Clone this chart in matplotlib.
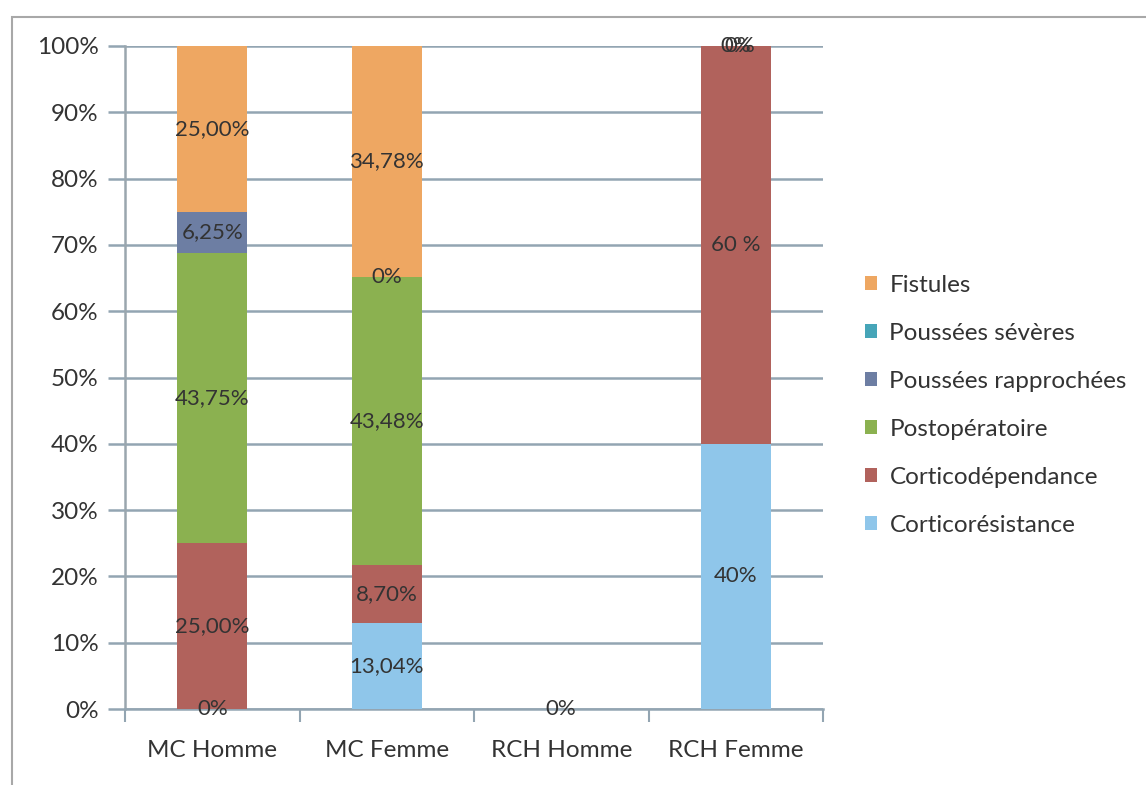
import numpy as np
import matplotlib.pyplot as plt
from matplotlib.patches import Rectangle

plt.rcParams['font.family'] = ['Lato', 'DejaVu Sans']

# Data (percent of each group)
groups = ['MC Homme', 'MC Femme', 'RCH Homme', 'RCH Femme']
series = ['Corticorésistance', 'Corticodépendance', 'Postopératoire',
          'Poussées rapprochées', 'Poussées sévères', 'Fistules']
cortico_resistance = [0, 13.04, 0, 40]
cortico_dependance = [25.00, 8.70, 0, 60]
postoperatoire = [43.75, 43.48, 0, 0]
poussees_rapprochees = [6.25, 0, 0, 0]
poussees_severes = [0, 0, 0, 0]
fistules = [25.00, 34.78, 0, 0]

# Data labels as printed on the chart (None = not shown)
labels_resistance = ['0%', '13,04%', '0%', '40%']
labels_dependance = ['25,00%', '8,70%', None, '60 %']
labels_postop = ['43,75%', '43,48%', None, None]
labels_rapprochees = ['6,25%', '0%', None, None]
labels_severes = [None, None, None, '0%']
labels_fistules = ['25,00%', '34,78%', None, '0%']

values = [cortico_resistance, cortico_dependance, postoperatoire,
          poussees_rapprochees, poussees_severes, fistules]
labels = [labels_resistance, labels_dependance, labels_postop,
          labels_rapprochees, labels_severes, labels_fistules]
colors = ['#8FC6EA', '#B1625C', '#8BB150', '#6D7EA3', '#46A5B8', '#EEA762']

text_col = '#333333'
grid_col = '#93A5B2'

fig = plt.figure(figsize=(11.46, 7.85), dpi=100)
fig.patches.append(Rectangle((12 / 1146, -0.05), 1.2, 1 - 17 / 785 + 0.05,
                             transform=fig.transFigure, fill=False,
                             edgecolor='#A8A8A8', linewidth=1.5))
ax = fig.add_axes([125 / 1146, 76 / 785, 698 / 1146, 663 / 785])

x = np.arange(len(groups))
bottom = np.zeros(len(groups))
bars = []
for vals, labs, col, name in zip(values, labels, colors, series):
    vals = np.array(vals, dtype=float)
    b = ax.bar(x, vals, 0.4, bottom=bottom, color=col, label=name, zorder=3)
    bars.append(b)
    for i, lab in enumerate(labs):
        if lab is None:
            continue
        # the two stacked 0% labels on top of RCH Femme sit almost on each other
        dx = 0.025 if (name == 'Fistules' and i == 3) else 0
        ax.text(x[i] + dx, bottom[i] + vals[i] / 2, lab, ha='center', va='center',
                fontsize=16, color=text_col, zorder=5)
    bottom += vals

ax.set_xlim(-0.5, 3.5)
ax.set_ylim(0, 100)
ax.set_yticks(np.arange(0, 101, 10))
ax.set_yticklabels([f'{v}%' for v in range(0, 101, 10)])
ax.set_xticks(x)
ax.set_xticklabels(groups)
ax.set_xticks(np.arange(-0.5, 3.6, 1), minor=True)
ax.tick_params(axis='x', which='major', length=0, pad=22, labelsize=17.5, labelcolor=text_col)
ax.tick_params(axis='x', which='minor', length=9, width=1.5, color=grid_col, direction='out')
ax.tick_params(axis='y', length=12, width=1.8, color=grid_col, pad=7,
               labelsize=17.5, labelcolor=text_col)
ax.yaxis.grid(True, color=grid_col, linewidth=1.8, zorder=0)
for s in ['top', 'right']:
    ax.spines[s].set_visible(False)
ax.spines['left'].set_color('#9AA6AE')
ax.spines['left'].set_linewidth(1.8)
ax.spines['bottom'].set_color(grid_col)
ax.spines['bottom'].set_linewidth(1.8)

handles = bars[::-1]
ax.legend(handles, series[::-1], loc='center left', bbox_to_anchor=(1.043, 0.458),
          frameon=False, fontsize=17.5, labelcolor=text_col, handlelength=0.5,
          handleheight=0.5, handletextpad=0.5, labelspacing=1.11, borderpad=0)

fig.savefig('out.png', dpi=100)
